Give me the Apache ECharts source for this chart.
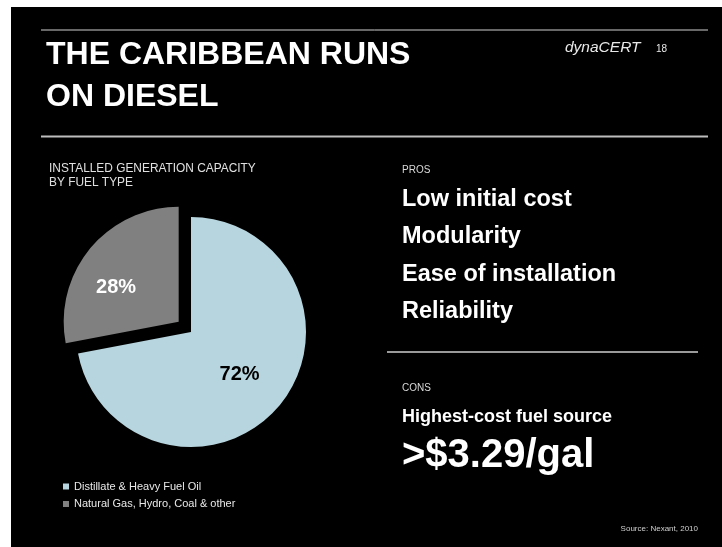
<!DOCTYPE html>
<html>
<head>
<meta charset="utf-8">
<title>The Caribbean runs on diesel</title>
<script src="https://cdn.jsdelivr.net/npm/echarts@6/dist/echarts.min.js"></script>
<style>
  html, body { margin: 0; padding: 0; background: #fff; overflow: hidden; }
  #main { width: 722px; height: 547px; }
</style>
</head>
<body>
<div id="main"></div>
<script>
// installed capacity by fuel type (percent)
const fuelTypes = ['Distillate & Heavy Fuel Oil', 'Natural Gas, Hydro, Coal & other'];
const sharePct = [72, 28];
const sliceColors = ['#b7d5de', '#808080'];
const labelColors = ['#000', '#fff'];
// nudge the inside labels a bit, like on the slide
const labelShift = [[2, 4], [-16, 4]];

const prosList = ['Low initial cost', 'Modularity', 'Ease of installation', 'Reliability'];
const consHead = 'Highest-cost fuel source';
const consPrice = '>$3.29/gal';

const FONT = '"Liberation Sans", Arial, sans-serif';

let myChart = echarts.init(document.getElementById('main'));

// right side text blocks
let texts = [];
texts.push({ type: 'text', x: 402, y: 170, style: { text: 'PROS', fill: '#d9d9d9', font: '10px ' + FONT, textVerticalAlign: 'middle' } });
prosList.forEach(function (p, i) {
  texts.push({
    type: 'text', x: 402, y: 199.5 + i * 37.4,
    style: { text: p, fill: '#fff', font: 'bold 23.5px ' + FONT, textVerticalAlign: 'middle' }
  });
});
texts.push({ type: 'text', x: 402, y: 388, style: { text: 'CONS', fill: '#d9d9d9', font: '10px ' + FONT, textVerticalAlign: 'middle' } });
texts.push({ type: 'text', x: 402, y: 417, style: { text: consHead, fill: '#fff', font: 'bold 18px ' + FONT, textVerticalAlign: 'middle' } });
texts.push({ type: 'text', x: 402, y: 456, style: { text: consPrice, fill: '#fff', font: 'bold 40px ' + FONT, textVerticalAlign: 'middle' } });
texts.push({ type: 'text', x: 698, y: 529, style: { text: 'Source: Nexant, 2010', fill: '#cfcfcf', font: '8px ' + FONT, textAlign: 'right', textVerticalAlign: 'middle' } });

myChart.setOption({
  backgroundColor: '#fff',
  animation: false,
  graphic: [
    // slide background
    { type: 'rect', z: -10, shape: { x: 11, y: 7, width: 730, height: 560 }, style: { fill: '#000' } },
    // rules
    { type: 'line', shape: { x1: 41, y1: 30, x2: 708, y2: 30 }, style: { stroke: '#d0d0d0', lineWidth: 1 } },
    { type: 'line', shape: { x1: 41, y1: 136.5, x2: 708, y2: 136.5 }, style: { stroke: '#bdbdbd', lineWidth: 2 } },
    { type: 'line', shape: { x1: 387, y1: 352, x2: 698, y2: 352 }, style: { stroke: '#9a9a9a', lineWidth: 2 } },
    // title
    { type: 'text', x: 46, y: 55, style: { text: 'THE CARIBBEAN RUNS', fill: '#fff', font: 'bold 32px ' + FONT, textVerticalAlign: 'middle' } },
    { type: 'text', x: 46, y: 97, style: { text: 'ON DIESEL', fill: '#fff', font: 'bold 32px ' + FONT, textVerticalAlign: 'middle' } },
    { type: 'text', x: 565, y: 48, style: { text: 'dynaCERT', fill: '#e8e8e8', font: 'italic 15.5px ' + FONT, textVerticalAlign: 'middle' } },
    { type: 'text', x: 656, y: 49, style: { text: '18', fill: '#e8e8e8', font: '10px ' + FONT, textVerticalAlign: 'middle' } },
    // chart heading
    { type: 'text', x: 49, y: 168.5, style: { text: 'INSTALLED GENERATION CAPACITY', fill: '#e0e0e0', font: '11.9px ' + FONT, textVerticalAlign: 'middle' } },
    { type: 'text', x: 49, y: 182.5, style: { text: 'BY FUEL TYPE', fill: '#e0e0e0', font: '11.9px ' + FONT, textVerticalAlign: 'middle' } }
  ].concat(texts),
  legend: {
    orient: 'vertical',
    left: 58,
    top: 476,
    icon: 'rect',
    itemWidth: 6,
    itemHeight: 6,
    itemGap: 6.5,
    selectedMode: false,
    textStyle: { color: '#e8e8e8', fontSize: 11, fontFamily: FONT }
  },
  series: [{
    type: 'pie',
    center: [191, 332],
    radius: 115,
    startAngle: 90,
    clockwise: true,
    selectedMode: 'single',
    selectedOffset: 16,
    avoidLabelOverlap: false,
    emphasis: { disabled: true },
    label: {
      show: true,
      position: 'inside',
      formatter: '{c}%',
      fontSize: 20,
      fontWeight: 'bold',
      fontFamily: FONT
    },
    labelLine: { show: false },
    labelLayout: function (params) {
      let s = labelShift[params.dataIndex];
      return { dx: s[0], dy: s[1] };
    },
    data: fuelTypes.map(function (name, i) {
      return {
        name: name,
        value: sharePct[i],
        selected: i === 1,
        itemStyle: { color: sliceColors[i], borderWidth: 0 },
        select: { itemStyle: { color: sliceColors[i], borderWidth: 0 } },
        label: { color: labelColors[i] }
      };
    })
  }]
});
</script>
</body>
</html>
